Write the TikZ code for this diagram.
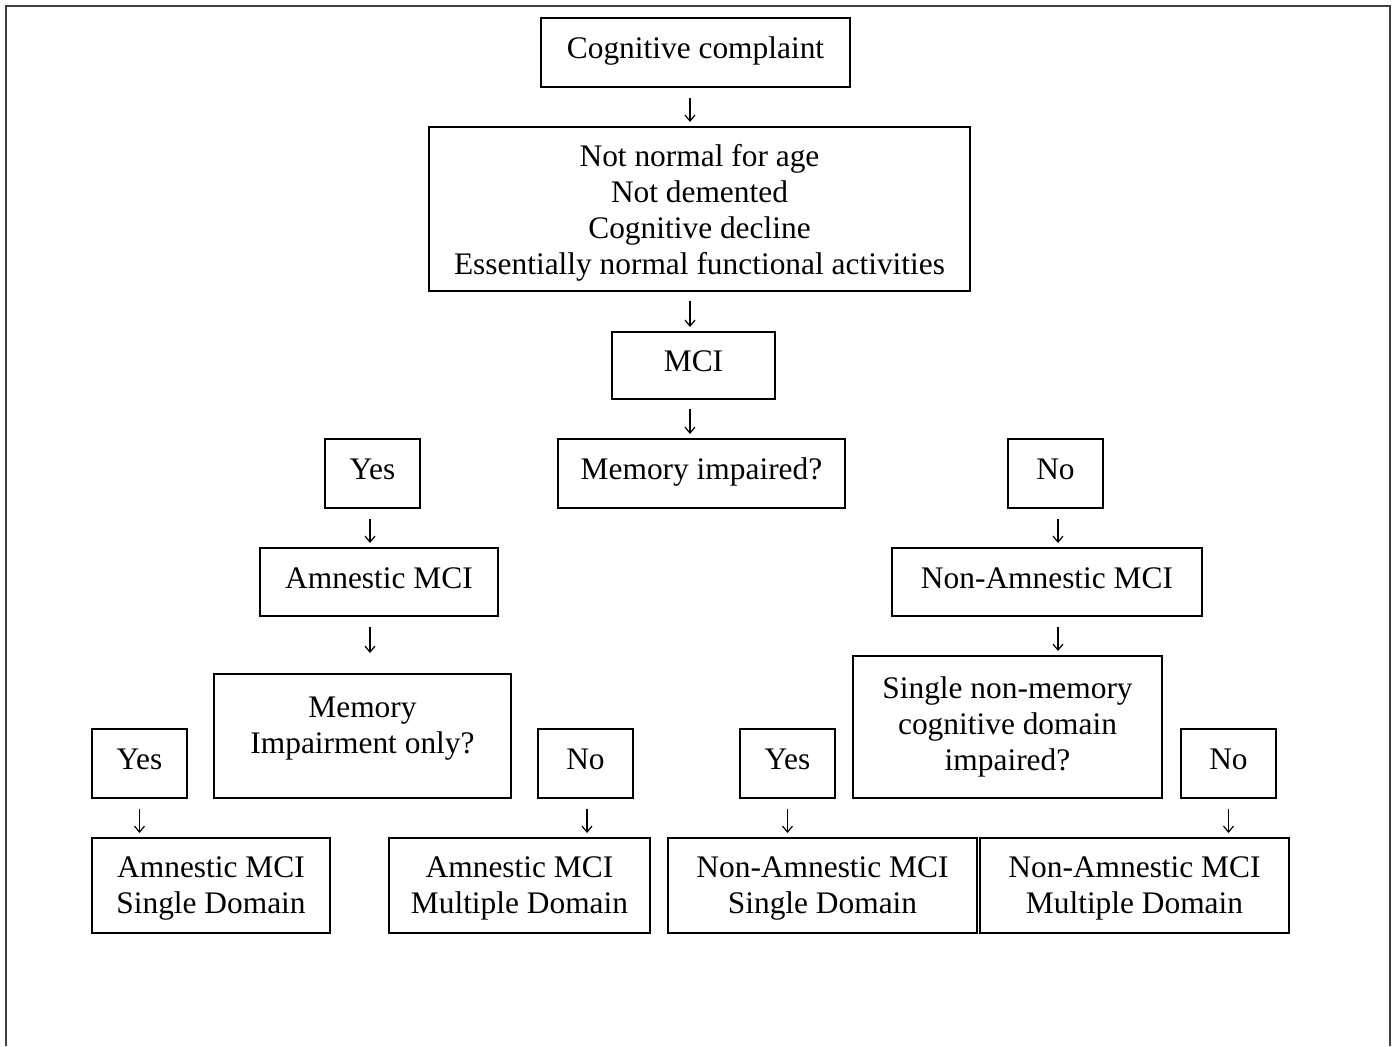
\documentclass[tikz,border=0pt]{standalone}
\usepackage{fontspec}
\setmainfont{Liberation Serif}
\usetikzlibrary{arrows.meta}

\begin{document}
\begin{tikzpicture}[x=0.5pt,y=-0.5pt,
    box/.style 2 args={draw,line width=1pt,align=center,inner sep=0pt,
        minimum width=#1*0.5pt,minimum height=#2*0.5pt,
        font=\fontsize{15.7pt}{18pt}\selectfont},
    line/.style={text height=11pt,text depth=5pt},
    arr/.style={line width=0.6pt,-{Straight Barb[length=3pt,width=5pt]},
        shorten <=5pt,shorten >=2pt}]
    \useasboundingbox (0,0) rectangle (1397,1046);
    \draw[line width=0.8pt,black!75] (6,1046) -- (6,6) -- (1390,6) -- (1390,1046);

    \node[box={309}{69},line]  (cc)   at (695.5,52.5) {Cognitive complaint};
    \node[box={541}{164},text depth=-1.6pt] (crit) at (699.5,209)  {Not normal for age\\Not demented\\Cognitive decline\\Essentially normal functional activities};
    \node[box={163}{67},line]  (mci)  at (693.5,365.5) {MCI};

    \node[box={95}{69},line]   (yesA) at (372.5,473.5)  {Yes};
    \node[box={287}{69},line]  (mem)  at (701.5,473.5)  {Memory impaired?};
    \node[box={95}{69},line]   (noA)  at (1055.5,473.5) {No};

    \node[box={238}{68},line]  (amn)  at (379,582)  {Amnestic MCI};
    \node[box={310}{68},line]  (namn) at (1047,582) {Non-Amnestic MCI};

    \node[box={297}{124},text depth=10.4pt] (memonly) at (362.5,736)  {Memory\\Impairment only?};
    \node[box={309}{142}] (single)  at (1007.5,727) {Single non-memory\\cognitive domain\\impaired?};

    \node[box={95}{69},line]   (yesB) at (139.5,763.5)  {Yes};
    \node[box={95}{69},line]   (noB)  at (585.5,763.5)  {No};
    \node[box={95}{69},line]   (yesC) at (787.5,763.5)  {Yes};
    \node[box={95}{69},line]   (noC)  at (1228.5,763.5) {No};

    \node[box={238}{95},text depth=-1.6pt]  (amsd) at (211,885.5)    {Amnestic MCI\\Single Domain};
    \node[box={261}{95},text depth=-1.6pt]  (ammd) at (519.5,885.5)  {Amnestic MCI\\Multiple Domain};
    \node[box={309}{95},text depth=-1.6pt]  (nasd) at (822.5,885.5)  {Non-Amnestic MCI\\Single Domain};
    \node[box={309}{95},text depth=-1.6pt]  (namd) at (1134.5,885.5) {Non-Amnestic MCI\\Multiple Domain};

    \draw[arr] ([xshift=-2.75pt]cc.south) -- ([xshift=-2.75pt]cc.south |- crit.north);
    \draw[arr,shorten <=4.5pt] ([xshift=-4.75pt]crit.south) -- ([xshift=-4.75pt]crit.south |- mci.north);
    \draw[arr,shorten <=4.5pt] ([xshift=-1.75pt]mci.south) -- ([xshift=-1.75pt]mci.south |- mem.north);
    \draw[arr] ([xshift=-1.25pt]yesA.south) -- ([xshift=-1.25pt]yesA.south |- amn.north);
    \draw[arr] ([xshift=1.25pt]noA.south) -- ([xshift=1.25pt]noA.south |- namn.north);
    \draw[arr,shorten >=10pt] ([xshift=-4.5pt]amn.south) -- ([xshift=-4.5pt]amn.south |- memonly.north);
    \draw[arr] ([xshift=5.5pt]namn.south) -- ([xshift=5.5pt]namn.south |- single.north);
    \draw[arr] (yesB.south) -- (yesB.south |- amsd.north);
    \draw[arr] ([xshift=0.75pt]noB.south) -- ([xshift=0.75pt]noB.south |- ammd.north);
    \draw[arr] (yesC.south) -- (yesC.south |- nasd.north);
    \draw[arr] (noC.south) -- (noC.south |- namd.north);
\end{tikzpicture}
\end{document}
